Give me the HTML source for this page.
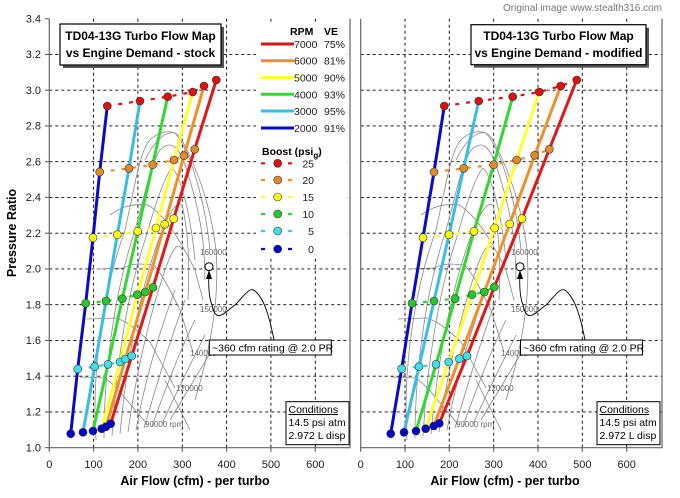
<!DOCTYPE html>
<html><head><meta charset="utf-8"><style>
html,body{margin:0;padding:0;background:#fff;}
svg{display:block;font-family:"Liberation Sans",sans-serif;}
</style></head><body>
<svg width="680" height="498" viewBox="0 0 680 498" xmlns="http://www.w3.org/2000/svg">
<defs>
<g id="map" fill="none" stroke="#888" stroke-width="0.8">
  <path d="M96,440 C92,380 100,300 125,230 C135,185 140,150 150,140 C160,130 175,128 182,140 C195,165 210,200 216,250 C220,300 210,350 195,400"/>
  <path d="M104,438 C104,380 112,300 135,230 C145,195 150,165 160,150 C170,140 178,145 185,165 C195,195 205,230 205,280"/>
  <path d="M112,436 C115,380 125,300 145,240 C155,205 165,175 172,168 C180,175 190,210 195,260"/>
  <path d="M120,434 C125,380 135,310 155,250 C165,220 175,200 182,205 C188,230 190,260 188,300"/>
  <path d="M128,432 C135,380 148,320 165,270 C172,250 178,240 182,250"/>
  <path d="M136,430 C145,380 160,330 175,290"/>
  <path d="M144,428 C155,390 170,340 185,300"/>
  <path d="M152,426 C165,390 180,350 195,320"/>
  <path d="M162,424 C175,395 190,365 205,335"/>
  <path d="M170,420 C185,395 200,370 212,350"/>
  <path d="M96.7,269 L123,268 C128,266 132,264 140,264 L153,265 C160,270 170,290 180,310 L193,352"/>
  <path d="M87,319 L115,318 C125,320 135,328 150,342 L175,388"/>
  <path d="M80,377 L105,378 C115,385 125,398 135,410 L147,424"/>
  <path d="M110,215 C120,208 130,203 148,205 C165,215 180,240 195,270 L203,300"/>
  <path d="M145,160 C155,140 165,131 175,133 C190,150 205,200 210,250"/>
  <path d="M165,380 C175,400 185,420 190,430"/>
</g>
</defs>
<rect width="680" height="498" fill="#fff"/>
<text x="662" y="11" text-anchor="end" font-size="10" fill="#777">Original image www.stealth316.com</text>

<g stroke="#000" stroke-width="0.9" stroke-dasharray="3,3">
  <path d="M93.6,18.7V447.7M137.9,18.7V447.7M182.3,18.7V447.7M226.6,18.7V447.7M270.9,18.7V447.7M315.3,18.7V447.7"/>
  <path d="M405,18.7V447.7M449.3,18.7V447.7M493.7,18.7V447.7M538,18.7V447.7M582.3,18.7V447.7M626.7,18.7V447.7"/>
  <path d="M49.3,54.45H350M49.3,90.2H350M49.3,125.95H350M49.3,161.7H350M49.3,197.45H350M49.3,233.2H350M49.3,268.95H350M49.3,304.7H350M49.3,340.45H350M49.3,376.2H350M49.3,411.95H350"/>
  <path d="M360.7,54.45H662M360.7,90.2H662M360.7,125.95H662M360.7,161.7H662M360.7,197.45H662M360.7,233.2H662M360.7,268.95H662M360.7,304.7H662M360.7,340.45H662M360.7,376.2H662M360.7,411.95H662"/>
</g>
<g stroke="#666" stroke-width="1.2" fill="none">
  <path d="M49.3,18.7V447.7H350V18.7"/>
  <path d="M360.7,18.7V447.7H662V18.7"/>
  <path d="M45,18.7h4M45,54.45h4M45,90.2h4M45,125.95h4M45,161.7h4M45,197.45h4M45,233.2h4M45,268.95h4M45,304.7h4M45,340.45h4M45,376.2h4M45,411.95h4M45,447.7h4"/>
  <path d="M49.3,447.7v4M93.6,447.7v4M137.9,447.7v4M182.3,447.7v4M226.6,447.7v4M270.9,447.7v4M315.3,447.7v4"/>
  <path d="M360.7,447.7v4M405,447.7v4M449.3,447.7v4M493.7,447.7v4M538,447.7v4M582.3,447.7v4M626.7,447.7v4"/>
</g>
<g font-size="11" fill="#222" text-anchor="end">
  <text x="41" y="22.5">3.4</text><text x="41" y="58.2">3.2</text><text x="41" y="94">3.0</text><text x="41" y="129.7">2.8</text><text x="41" y="165.5">2.6</text><text x="41" y="201.2">2.4</text><text x="41" y="237">2.2</text><text x="41" y="272.7">2.0</text><text x="41" y="308.5">1.8</text><text x="41" y="344.2">1.6</text><text x="41" y="380">1.4</text><text x="41" y="415.7">1.2</text><text x="41" y="451.5">1.0</text>
</g>
<g font-size="11" fill="#222" text-anchor="middle">
  <text x="49.3" y="468">0</text><text x="93.6" y="468">100</text><text x="137.9" y="468">200</text><text x="182.3" y="468">300</text><text x="226.6" y="468">400</text><text x="270.9" y="468">500</text><text x="315.3" y="468">600</text>
  <text x="360.7" y="468">0</text><text x="405" y="468">100</text><text x="449.3" y="468">200</text><text x="493.7" y="468">300</text><text x="538" y="468">400</text><text x="582.3" y="468">500</text><text x="626.7" y="468">600</text>
</g>
<g font-size="12.5" font-weight="bold" fill="#000" text-anchor="middle">
  <text x="195" y="485">Air Flow (cfm) - per turbo</text>
  <text x="505" y="485">Air Flow (cfm) - per turbo</text>
  <text transform="translate(16,233) rotate(-90)">Pressure Ratio</text>
</g>

<use href="#map"/>
<use href="#map" transform="translate(311,0)"/>
<g font-size="8" fill="#666">
  <text x="145" y="427">90000 rpm</text><text x="176" y="391">120000</text><text x="190" y="356">140000</text><text x="200" y="312">150000</text><text x="200" y="255">160000</text>
  <text x="456" y="427">90000 rpm</text><text x="487" y="391">120000</text><text x="501" y="356">140000</text><text x="511" y="312">150000</text><text x="511" y="255">160000</text>
</g>
<g fill="none" stroke="#000" stroke-width="0.9">
  <path d="M209,272 C208,290 210,300 212,305 C216,325 225,312 235,305 C245,295 250,285 256,292 C265,300 270,320 274,340"/>
  <path d="M520,272 C519,290 521,300 523,305 C527,325 536,312 546,305 C556,295 561,285 567,292 C576,300 581,320 585,340"/>
</g>
<path d="M209,270 l-3,9 h6z M520,270 l-3,9 h6z" fill="#000"/>
<circle cx="209" cy="266.7" r="4" fill="#fff" stroke="#000"/>
<circle cx="520" cy="266.7" r="4" fill="#fff" stroke="#000"/>
<g font-size="10.5" fill="#000">
  <rect x="209.3" y="340" width="122" height="15" fill="#fff" stroke="#000"/>
  <text x="212" y="351.5">~360 cfm rating @ 2.0 PR</text>
  <rect x="520.5" y="340" width="122" height="15" fill="#fff" stroke="#000"/>
  <text x="523" y="351.5">~360 cfm rating @ 2.0 PR</text>
  <rect x="286" y="401.7" width="63" height="43" fill="#fff" stroke="#000"/>
  <text x="288.5" y="413" text-decoration="underline">Conditions</text><text x="288.5" y="426">14.5 psi atm</text><text x="288.5" y="439">2.972 L disp</text>
  <rect x="597" y="401.7" width="63" height="43" fill="#fff" stroke="#000"/>
  <text x="599.5" y="413" text-decoration="underline">Conditions</text><text x="599.5" y="426">14.5 psi atm</text><text x="599.5" y="439">2.972 L disp</text>
</g>

<g fill="none" stroke-width="2.2" stroke-dasharray="4,7">
  <polyline stroke="#e01010" points="107.3,106 140,101 167.7,96.7 192.7,92 204,86 216.3,80"/>
  <polyline stroke="#f09030" points="99.7,172 129,168.3 152.7,164.7 174,160 184,155.7 194.7,149.3"/>
  <polyline stroke="#ffff40" points="93,237.7 117.3,234.7 137.7,231.3 156,228 164.7,224.3 173.7,218.7"/>
  <polyline stroke="#30d030" points="85.7,303.3 106,301 122.3,298.7 137.3,294.7 145.3,292 153,287.3"/>
  <polyline stroke="#40c8e8" points="77.7,369 94.7,366.7 108,364.3 120,362 125.3,359 131.7,356"/>
  <polyline stroke="#e01010" points="444.3,106 478.7,101 512.7,96.7 539.3,92 560.7,86 576.7,80"/>
  <polyline stroke="#f09030" points="434,172 463.7,168.3 493.7,164.7 516.7,160 534.7,155.3 549.3,149.3"/>
  <polyline stroke="#ffff40" points="423,237.7 449,234.7 474,231.3 494.7,228 509.7,224 522,218.7"/>
  <polyline stroke="#30d030" points="412,303.3 434,301 455,298.7 472,294.7 484.3,292 494.3,287"/>
  <polyline stroke="#40c8e8" points="401.7,368.7 419,366.7 436,364.3 448.7,362 459.3,358.7 467,356"/>
</g>
<g fill="none" stroke-width="3">
  <polyline stroke="#0a0ac8" points="70.7,433.7 77.7,369 85.7,303.3 93,237.7 99.7,172 107.3,106"/>
  <polyline stroke="#38bce8" points="83,432.3 94.7,366.7 106,301 117.3,234.7 129,168.3 140,101"/>
  <polyline stroke="#30d830" points="93,431 108,364.3 122.3,298.7 137.7,231.3 152.7,164.7 167.7,96.7"/>
  <polyline stroke="#ffff30" points="101.7,428.7 120,362 137.3,294.7 156,228 174,160 192.7,92"/>
  <polyline stroke="#f09028" points="106,426.7 125.3,359 145.3,292 164.7,224.3 184,155.7 204,86"/>
  <polyline stroke="#e01818" points="110.7,423.7 131.7,356 153,287.3 173.7,218.7 194.7,149.3 216.3,80"/>
  <polyline stroke="#0a0ac8" points="390.7,433.7 401.7,368.7 412,303.3 423,237.7 434,172 444.3,106"/>
  <polyline stroke="#38bce8" points="404,432.3 419,366.7 434,301 449,234.7 463.7,168.3 478.7,101"/>
  <polyline stroke="#30d830" points="416,431 436,364.3 455,298.7 474,231.3 493.7,164.7 512.7,96.7"/>
  <polyline stroke="#ffff30" points="425.7,428.7 448.7,362 472,294.7 494.7,228 516.7,160 539.3,92"/>
  <polyline stroke="#f09028" points="433.7,426 459.3,358.7 484.3,292 509.7,224 534.7,155.3 560.7,86"/>
  <polyline stroke="#e01818" points="439.3,423.3 467,356 494.3,287 522,218.7 549.3,149.3 576.7,80"/>
</g>
<g stroke="#333" stroke-width="0.6">
 <g fill="#0000c8">
  <circle cx="70.7" cy="433.7" r="4"/><circle cx="83" cy="432.3" r="4"/><circle cx="93" cy="431" r="4"/><circle cx="101.7" cy="428.7" r="4"/><circle cx="106" cy="426.7" r="4"/><circle cx="110.7" cy="423.7" r="4"/>
  <circle cx="390.7" cy="433.7" r="4"/><circle cx="404" cy="432.3" r="4"/><circle cx="416" cy="431" r="4"/><circle cx="425.7" cy="428.7" r="4"/><circle cx="433.7" cy="426" r="4"/><circle cx="439.3" cy="423.3" r="4"/>
 </g>
 <g fill="#40e0e8">
  <circle cx="77.7" cy="369" r="4"/><circle cx="94.7" cy="366.7" r="4"/><circle cx="108" cy="364.3" r="4"/><circle cx="120" cy="362" r="4"/><circle cx="125.3" cy="359" r="4"/><circle cx="131.7" cy="356" r="4"/>
  <circle cx="401.7" cy="368.7" r="4"/><circle cx="419" cy="366.7" r="4"/><circle cx="436" cy="364.3" r="4"/><circle cx="448.7" cy="362" r="4"/><circle cx="459.3" cy="358.7" r="4"/><circle cx="467" cy="356" r="4"/>
 </g>
 <g fill="#28c828">
  <circle cx="85.7" cy="303.3" r="4"/><circle cx="106" cy="301" r="4"/><circle cx="122.3" cy="298.7" r="4"/><circle cx="137.3" cy="294.7" r="4"/><circle cx="145.3" cy="292" r="4"/><circle cx="153" cy="287.3" r="4"/>
  <circle cx="412" cy="303.3" r="4"/><circle cx="434" cy="301" r="4"/><circle cx="455" cy="298.7" r="4"/><circle cx="472" cy="294.7" r="4"/><circle cx="484.3" cy="292" r="4"/><circle cx="494.3" cy="287" r="4"/>
 </g>
 <g fill="#ffff10">
  <circle cx="93" cy="237.7" r="4"/><circle cx="117.3" cy="234.7" r="4"/><circle cx="137.7" cy="231.3" r="4"/><circle cx="156" cy="228" r="4"/><circle cx="164.7" cy="224.3" r="4"/><circle cx="173.7" cy="218.7" r="4"/>
  <circle cx="423" cy="237.7" r="4"/><circle cx="449" cy="234.7" r="4"/><circle cx="474" cy="231.3" r="4"/><circle cx="494.7" cy="228" r="4"/><circle cx="509.7" cy="224" r="4"/><circle cx="522" cy="218.7" r="4"/>
 </g>
 <g fill="#e08a28">
  <circle cx="99.7" cy="172" r="4"/><circle cx="129" cy="168.3" r="4"/><circle cx="152.7" cy="164.7" r="4"/><circle cx="174" cy="160" r="4"/><circle cx="184" cy="155.7" r="4"/><circle cx="194.7" cy="149.3" r="4"/>
  <circle cx="434" cy="172" r="4"/><circle cx="463.7" cy="168.3" r="4"/><circle cx="493.7" cy="164.7" r="4"/><circle cx="516.7" cy="160" r="4"/><circle cx="534.7" cy="155.3" r="4"/><circle cx="549.3" cy="149.3" r="4"/>
 </g>
 <g fill="#dd1010">
  <circle cx="107.3" cy="106" r="4"/><circle cx="140" cy="101" r="4"/><circle cx="167.7" cy="96.7" r="4"/><circle cx="192.7" cy="92" r="4"/><circle cx="204" cy="86" r="4"/><circle cx="216.3" cy="80" r="4"/>
  <circle cx="444.3" cy="106" r="4"/><circle cx="478.7" cy="101" r="4"/><circle cx="512.7" cy="96.7" r="4"/><circle cx="539.3" cy="92" r="4"/><circle cx="560.7" cy="86" r="4"/><circle cx="576.7" cy="80" r="4"/>
 </g>
</g>

<rect x="63" y="27" width="161" height="41" fill="#555"/>
<rect x="60" y="24" width="161" height="41" fill="#fff" stroke="#000" stroke-width="1.2"/>
<g font-size="12" font-weight="bold" text-anchor="middle" fill="#000">
  <text x="140.5" y="40">TD04-13G Turbo Flow Map</text>
  <text x="140.5" y="57">vs Engine Demand - stock</text>
</g>
<rect x="474" y="27.7" width="175" height="40" fill="#555"/>
<rect x="471" y="24.7" width="175" height="40" fill="#fff" stroke="#000" stroke-width="1.2"/>
<g font-size="12" font-weight="bold" text-anchor="middle" fill="#000">
  <text x="558.5" y="40">TD04-13G Turbo Flow Map</text>
  <text x="558.5" y="57">vs Engine Demand - modified</text>
</g>

<rect x="256" y="22" width="90" height="234" fill="#fff"/>
<g font-size="10.5" fill="#222">
  <text x="290" y="35" font-weight="bold" fill="#000">RPM</text>
  <text x="324" y="35" font-weight="bold" fill="#000">VE</text>
  <g stroke-width="3">
    <line x1="261" y1="44" x2="294" y2="44" stroke="#d01818"/>
    <line x1="261" y1="60.7" x2="294" y2="60.7" stroke="#f09028"/>
    <line x1="261" y1="77.5" x2="294" y2="77.5" stroke="#ffff30"/>
    <line x1="261" y1="94.3" x2="294" y2="94.3" stroke="#30d830"/>
    <line x1="261" y1="111" x2="294" y2="111" stroke="#38bce8"/>
    <line x1="261" y1="128" x2="294" y2="128" stroke="#0a0ac8"/>
  </g>
  <text x="294" y="48">7000</text><text x="324" y="48">75%</text>
  <text x="294" y="64.7">6000</text><text x="324" y="64.7">81%</text>
  <text x="294" y="81.5">5000</text><text x="324" y="81.5">90%</text>
  <text x="294" y="98.3">4000</text><text x="324" y="98.3">93%</text>
  <text x="294" y="115">3000</text><text x="324" y="115">95%</text>
  <text x="294" y="132">2000</text><text x="324" y="132">91%</text>
  <text x="262" y="155" font-weight="bold" fill="#000">Boost (psi<tspan font-size="8" dy="3">g</tspan><tspan dy="-3">)</tspan></text>
  <g stroke-width="2.2">
    <path d="M261,163.3h4M288,163.3h4" stroke="#e01010"/>
    <path d="M261,180h4M288,180h4" stroke="#f09030"/>
    <path d="M261,197h4M288,197h4" stroke="#ffff40"/>
    <path d="M261,214h4M288,214h4" stroke="#30d030"/>
    <path d="M261,231h4M288,231h4" stroke="#40c8e8"/>
    <path d="M261,249h4M288,249h4" stroke="#0a0ac8"/>
  </g>
  <g stroke="#333" stroke-width="0.6">
    <circle cx="277.7" cy="163.3" r="4" fill="#dd1010"/>
    <circle cx="277.7" cy="180" r="4" fill="#e08a28"/>
    <circle cx="277.7" cy="197" r="4" fill="#ffff10"/>
    <circle cx="277.7" cy="214" r="4" fill="#28c828"/>
    <circle cx="277.7" cy="231" r="4" fill="#40e0e8"/>
    <circle cx="277.7" cy="249" r="4" fill="#0000c8"/>
  </g>
  <g text-anchor="end">
    <text x="314" y="167.3">25</text><text x="314" y="184">20</text><text x="314" y="201">15</text><text x="314" y="218">10</text><text x="314" y="235">5</text><text x="314" y="253">0</text>
  </g>
</g>
</svg>
</body></html>
